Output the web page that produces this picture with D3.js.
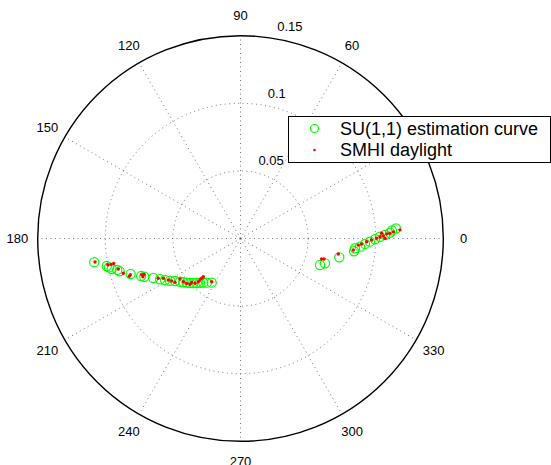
<!DOCTYPE html>
<html>
<head>
<meta charset="utf-8">
<script src="https://cdn.jsdelivr.net/npm/d3@7"></script>
<style>
body{margin:0;background:#fff;}
text{font-family:"Liberation Sans",Arial,Helvetica,sans-serif;fill:#000;}
</style>
</head>
<body>
<div id="polar"></div>
<script>
//data: angles in degrees, radius values

var suTheta=[189.2,191.6,192.4,193.3,194.3,195.2,197.9,200.7,201.7,204.4,206.9,208.8,210.9,213.0,215.5,217.4,219.4,221.4,223.3,225.5,227.5,229.9,232.6,236.9,
             341.6,343.6,349.2,353.6,355.1,356.1,357.5,358.6,359.7,0.7,1.4,2.2,3.0,3.7];
var suRho=[0.1096,0.1010,0.0996,0.0979,0.0941,0.0926,0.0854,0.0786,0.0766,0.0708,0.0667,0.0637,0.0608,0.0577,0.0550,0.0533,0.0515,0.0498,0.0480,0.0462,0.0444,0.0427,0.0411,0.0390,
           0.0620,0.0651,0.0744,0.0845,0.0850,0.0886,0.0922,0.0958,0.0995,0.1032,0.1069,0.1107,0.1122,0.1152];

var smhiTheta=[189.2,191.2,191.3,191.1,194.0,196.5,198.2,198.8,200.1,200.4,201.4,205.8,207.3,209.9,211.7,213.8,213.8,217.1,219.8,222.2,221.9,224.6,225.7,225.7,225.7,225.8,236.3,
               345.8,346.2,351.0,354.2,356.8,357.4,358.5,359.3,0.1,0.7,2.1,1.0,0.1,1.8,2.0,2.5,3.1];
var smhiRho=[0.1090,0.1001,0.0977,0.0956,0.0931,0.0904,0.0858,0.0869,0.0778,0.0761,0.0775,0.0676,0.0643,0.0616,0.0598,0.0583,0.0538,0.0530,0.0518,0.0504,0.0485,0.0472,0.0447,0.0429,0.0411,0.0394,0.0384,
             0.0619,0.0636,0.0732,0.0839,0.0873,0.0897,0.0934,0.0970,0.1007,0.1032,0.1045,0.1056,0.1069,0.1082,0.1106,0.1131,0.1181];

var rTicks=[0.05,0.1,0.15];
var angleTicks=[0,30,60,90,120,150,180,210,240,270,300,330];
// 30 sits under the legend in the original, so no label for it
var angleLabels=[0,60,90,120,150,180,210,240,270,300,330];
var seriesNames=["SU(1,1) estimation curve","SMHI daylight"];

//setup svg
var width=551,height=465;
var cx=240.5,cy=238.5,R=202.8;

var svg=d3.select("#polar").append("svg")
          .attr("width",width)
          .attr("height",height);

var g=svg.append("g")
         .attr("transform","translate("+cx+","+cy+")");

//scales
var rScale=d3.scaleLinear().domain([0,0.15]).range([0,R]);
var aScale=d3.scaleLinear().domain([0,360]).range([0,2*Math.PI]);

function px(t,r){return rScale(r)*Math.cos(aScale(t));}
function py(t,r){return -rScale(r)*Math.sin(aScale(t));}

//grid rings
g.selectAll(".ring")
 .data(rTicks.slice(0,-1))
 .enter()
 .append("circle")
 .attr("r",function(d){return rScale(d)})
 .style("fill","none")
 .style("stroke","#555")
 .style("stroke-width",0.8)
 .style("stroke-dasharray","1,3.5");

//spokes
g.selectAll(".spoke")
 .data(angleTicks)
 .enter()
 .append("line")
 .attr("x1",0)
 .attr("y1",0)
 .attr("x2",function(d){return px(d,0.15)})
 .attr("y2",function(d){return py(d,0.15)})
 .style("stroke","#555")
 .style("stroke-width",0.8)
 .style("stroke-dasharray","1,3.5");

//outer circle
g.append("circle")
 .attr("r",rScale(0.15))
 .style("fill","none")
 .style("stroke","#000")
 .style("stroke-width",1.4);

//radial labels along 82 degrees
var c82=Math.cos(82*Math.PI/180),s82=Math.sin(82*Math.PI/180);
g.selectAll(".rlabel")
 .data(rTicks)
 .enter()
 .append("text")
 .attr("x",function(d){return rScale(d+0.0025)*c82+8})
 .attr("y",function(d){return -rScale(d+0.0025)*s82-3})
 .style("font-size","13px")
 .text(function(d){return d});

//angle labels
g.selectAll(".alabel")
 .data(angleLabels)
 .enter()
 .append("text")
 .attr("x",function(d){return rScale(0.165)*Math.cos(aScale(d))})
 .attr("y",function(d){return -rScale(0.165)*Math.sin(aScale(d))})
 .attr("text-anchor","middle")
 .attr("dy","0.35em")
 .style("font-size","13px")
 .text(function(d){return d});

//su circles
g.append("g").selectAll("circle")
 .data(suTheta)
 .enter()
 .append("circle")
 .attr("cx",function(d,i){return px(d,suRho[i])})
 .attr("cy",function(d,i){return py(d,suRho[i])})
 .attr("r",4.6)
 .style("fill","none")
 .style("stroke","#00ff00")
 .style("stroke-width",1.2);

//smhi dots
g.append("g").selectAll("circle")
 .data(smhiTheta)
 .enter()
 .append("circle")
 .attr("cx",function(d,i){return px(d,smhiRho[i])})
 .attr("cy",function(d,i){return py(d,smhiRho[i])})
 .attr("r",1.7)
 .style("fill","#ff0000");

//legend
var legend=svg.append("g").attr("transform","translate(288,116)");
legend.append("rect")
      .attr("x",0.5)
      .attr("y",0.5)
      .attr("width",262)
      .attr("height",46)
      .style("fill","#fff")
      .style("stroke","#000")
      .style("stroke-width",1);
legend.append("circle")
      .attr("cx",26.5)
      .attr("cy",12.5)
      .attr("r",4)
      .style("fill","none")
      .style("stroke","#00ff00")
      .style("stroke-width",1.2);
legend.append("circle")
      .attr("cx",26.5)
      .attr("cy",34)
      .attr("r",1.3)
      .style("fill","#ff0000");
legend.selectAll(".ltext")
      .data(seriesNames)
      .enter()
      .append("text")
      .attr("x",52)
      .attr("y",function(d,i){return 12.5+i*21.5})
      .attr("dy","0.35em")
      .style("font-size","18px")
      .text(function(d){return d});
</script>
</body>
</html>
